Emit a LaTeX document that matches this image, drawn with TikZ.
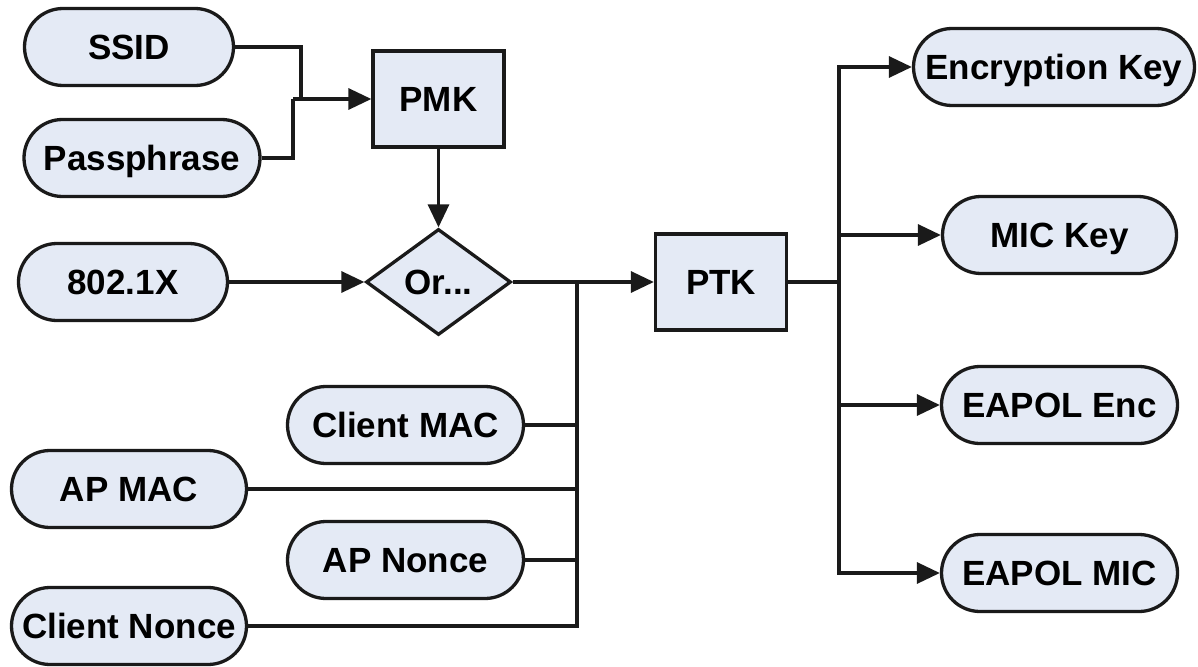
\documentclass[tikz,border=0pt]{standalone}
\usepackage{fontspec}
\setmainfont{Liberation Sans}
\usetikzlibrary{arrows.meta,shapes.geometric}
\definecolor{boxfill}{RGB}{228,234,245}
\definecolor{linecol}{RGB}{26,26,26}
\tikzset{
  base/.style={draw=linecol, fill=boxfill, line width=3.3pt, inner sep=0pt,
    font=\fontsize{35}{40}\selectfont\bfseries, text height=25pt, text depth=0pt, align=center},
  pill/.style={base, rectangle, rounded corners=38.5pt, minimum height=77pt},
  sqbox/.style={base, rectangle, minimum width=131pt, minimum height=96pt},
  decision/.style={base, diamond, minimum width=145pt, minimum height=106pt, aspect=1.37},
  conn/.style={draw=linecol, line width=3.3pt},
  arr/.style={conn, -{Triangle[length=23pt,width=21pt]}}
}
\begin{document}
\begin{tikzpicture}[x=1pt,y=-1pt]
\useasboundingbox (0,0) rectangle (1198,666);
% nodes
\node[pill, minimum width=209pt] (ssid) at (129,47) {SSID};
\node[pill, minimum width=236pt] (pass) at (142,158) {Passphrase};
\node[sqbox] (pmk) at (438.5,99) {PMK};
\node[pill, minimum width=209pt] (x8021) at (123,282) {802.1X};
\node[decision] (orn) at (438.5,282) {Or...};
\node[sqbox] (ptk) at (721,282) {PTK};
\node[pill, minimum width=236pt] (cmac) at (405.5,425) {Client MAC};
\node[pill, minimum width=235pt] (apmac) at (129,489) {AP MAC};
\node[pill, minimum width=236pt] (apnonce) at (405.5,560) {AP Nonce};
\node[pill, minimum width=235pt] (cnonce) at (129,626) {Client Nonce};
\node[pill, minimum width=281pt] (enc) at (1054,67) {Encryption Key};
\node[pill, minimum width=234pt] (mic) at (1059.5,235) {MIC Key};
\node[pill, minimum width=236pt] (eenc) at (1059.5,405) {EAPOL Enc};
\node[pill, minimum width=236pt] (emic) at (1059.5,573) {EAPOL MIC};
% junction coordinates
\coordinate (j1) at (301,99);
\coordinate (j2) at (293,99);
\coordinate (bus) at (577,282);
\coordinate (rb) at (839,282);
% connectors
\draw[conn] (ssid.east) -| (j1);
\draw[conn] (pass.east) -| (j2);
\draw[arr] (j2) -- (pmk.west);
\draw[arr] (pmk.south) -- (orn.north);
\draw[arr] (x8021.east) -- (orn.west);
\draw[arr] (orn.east) -- (ptk.west);
\draw[conn] (cnonce.east) -| (bus);
\draw[conn] (cmac.east) -- (cmac.east -| bus);
\draw[conn] (apmac.east) -- (apmac.east -| bus);
\draw[conn] (apnonce.east) -- (apnonce.east -| bus);
\draw[conn] (ptk.east) -- (rb);
\draw[arr] (rb) |- (enc.west);
\draw[arr] (rb) |- (mic.west);
\draw[arr] (rb) |- (eenc.west);
\draw[arr] (rb) |- (emic.west);
\end{tikzpicture}
\end{document}
